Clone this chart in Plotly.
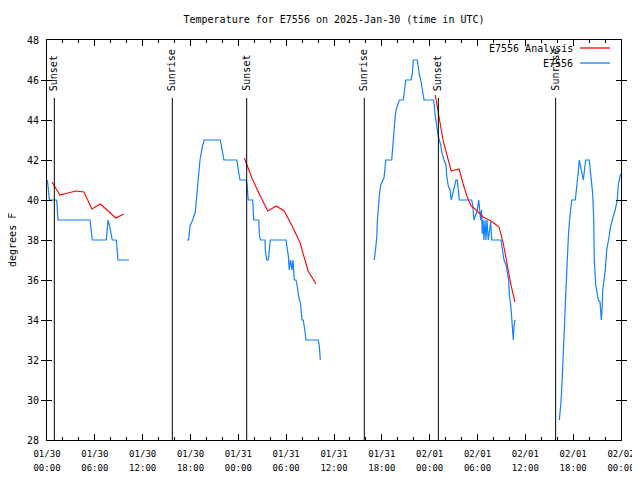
import pandas as pd
import numpy as np
import plotly.graph_objects as go

BASE = pd.Timestamp("2025-01-30 00:00")

# ---- E7556 observed (hours since 01/30 00:00 UTC, degrees F) ----
obs_h1 = [0.05, 0.2, 0.3, 1.22, 1.38, 5.39, 5.55, 5.68, 7.44, 7.6, 7.65, 7.85, 8.0, 8.19, 8.69, 8.91, 10.29]
obs_t1 = [41, 40.3, 40, 40, 39, 39, 38.5, 38, 38, 38.8, 39, 38.7, 38.4, 38, 38, 37, 37]

obs_h2 = [17.52, 17.77, 17.94, 18.28, 18.6, 18.78, 18.98, 19.19, 19.53, 19.73, 21.74, 21.95, 22.2, 23.8,
          23.92, 24.12, 24.21, 24.96, 25.09, 25.18, 25.25, 25.8, 25.93, 26.56, 26.63, 26.76, 27.35, 27.38,
          27.56, 27.76, 27.89, 28.01, 29.98, 30.11, 30.27, 30.39, 30.54, 30.73, 30.86, 31.02, 31.23, 31.36,
          31.49, 31.65, 31.77, 31.99, 32.15, 32.27, 32.4, 32.49, 34.03, 34.16, 34.28]
obs_t2 = [38, 38, 38.7, 39, 39.4, 40.3, 41.3, 42, 42.75, 43, 43, 42.6, 42, 42,
          41.7, 41.25, 41, 41, 40.8, 40.3, 40, 40, 39, 39, 38.3, 38, 38, 37.5,
          37, 37, 37.5, 38, 38, 37.7, 37.2, 36.5, 37, 36.5, 37, 36, 36, 35.75,
          35.25, 35, 34.9, 34, 34, 33.75, 33.3, 33, 33, 32.7, 32]

obs_h3 = [41.06, 41.23, 41.36, 41.43, 41.56, 41.68, 41.86, 42.11, 42.27, 42.4, 42.49, 43.24, 43.36, 43.53,
          43.66, 43.78, 44.19, 44.69, 44.82, 45.0, 45.66, 45.82, 45.95, 46.45, 46.7, 46.88, 47.13, 47.29,
          48.46, 48.58, 48.67, 48.8, 48.96, 49.08, 49.21, 49.39, 49.51, 49.64, 49.8, 50.05, 50.14, 50.34,
          50.55, 50.71, 50.89, 51.14, 51.3, 51.47, 51.64, 51.72, 53.27, 53.4, 53.56, 53.81, 53.98, 54.15,
          54.23, 54.4, 54.5, 54.6, 54.69, 54.81, 54.94, 55.06, 55.19, 55.35, 55.65, 55.78, 56.95, 57.03,
          57.16, 57.32, 57.57, 57.74, 57.91, 57.99, 58.17, 58.29, 58.42, 58.49, 58.58, 58.7]
obs_t3 = [37, 37.5, 38.1, 38.9, 39.7, 40.2, 40.75, 41, 41.1, 41.6, 42, 42, 42.7, 43.25,
          44.1, 44.5, 45, 45, 45.4, 46, 46, 46.3, 47, 47, 46.3, 46, 45.4, 45,
          45, 44.75, 44.3, 43.9, 43.4, 43.2, 43, 42.75, 42.4, 42.2, 42, 41.75, 41.2, 40.7,
          40.5, 40, 40.3, 40.75, 41, 41, 40.5, 40, 40, 39.7, 39, 39.25, 39.5, 40,
          39.7, 39, 39.5, 38.3, 39, 38, 39, 38, 39, 38, 38.9, 38, 38, 37.75,
          37.3, 37, 36.75, 36.4, 36, 35.25, 34.75, 34.1, 33.5, 33, 33.7, 34]

obs_h4 = [64.26, 64.35, 64.44, 64.56, 64.64, 64.76, 64.89, 65.01, 65.14, 65.27, 65.39, 65.52, 65.69, 65.82,
          66.27, 66.36, 66.48, 66.61, 66.77, 66.86, 66.99, 67.15, 67.28, 67.36, 67.45, 67.57, 68.02, 68.2,
          68.36, 68.45, 68.58, 68.65, 68.83, 68.99, 69.15, 69.37, 69.46, 69.53, 69.62, 69.71, 69.87, 70.03,
          70.21, 70.37, 70.54, 70.71, 70.87, 71.04, 71.21, 71.37, 71.54, 71.66, 71.79, 71.94]
obs_t4 = [29, 29.25, 29.75, 30.5, 31.5, 32.5, 33.5, 34.75, 36.25, 37.3, 38.1, 38.9, 39.7, 40,
          40, 40.3, 40.8, 41.3, 42, 41.8, 41.7, 41.25, 41, 41.3, 41.75, 42, 42, 41.3,
          40.8, 40.3, 39, 37, 35.75, 35.25, 35, 34.9, 34.3, 34, 34.5, 35.5, 36, 36.5,
          37.5, 38, 38.25, 38.7, 39, 39.2, 39.4, 39.7, 40, 40.75, 41, 41.3]

# ---- E7556 Analysis ----
ana_h1 = [0.63, 1.63, 2.63, 3.63, 4.63, 5.63, 6.7, 7.63, 8.63, 9.63]
ana_t1 = [40.9, 40.25, 40.35, 40.45, 40.4, 39.55, 39.8, 39.45, 39.1, 39.3]
ana_h2 = [24.75, 25.75, 26.75, 27.7, 28.75, 29.75, 30.75, 31.75, 32.75, 33.75]
ana_t2 = [42.1, 41.05, 40.2, 39.45, 39.7, 39.45, 38.7, 37.85, 36.45, 35.8]
ana_h3 = [48.7, 49.2, 49.7, 50.2, 50.7, 51.2, 51.7, 52.2, 52.7, 53.2, 53.7, 54.2, 54.7, 55.2,
          55.7, 56.2, 56.7, 57.2, 57.7, 58.2, 58.7]
ana_t3 = [45.25, 44.0, 42.95, 42.2, 41.45, 41.5, 41.55, 40.8, 40.15, 39.7, 39.55, 39.35, 39.15, 39.05,
          38.95, 38.8, 38.65, 37.9, 36.8, 35.75, 34.9]

# ---- sun events ----
sun_h = [0.92, 15.72, 25.05, 39.8, 49.09, 63.8]
sun_lbl = ["Sunset", "Sunrise", "Sunset", "Sunrise", "Sunset", "Sunrise"]

series_names = ["E7556 Analysis", "E7556"]
y_ticks = list(range(28, 49, 2))


def join(segs):
    xs, ys = [], []
    for h, t in segs:
        assert len(h) == len(t)
        xs += [BASE + pd.Timedelta(hours=v) for v in h] + [None]
        ys += list(t) + [None]
    return xs[:-1], ys[:-1]


ox, oy = join([(obs_h1, obs_t1), (obs_h2, obs_t2), (obs_h3, obs_t3), (obs_h4, obs_t4)])
ax_, ay_ = join([(ana_h1, ana_t1), (ana_h2, ana_t2), (ana_h3, ana_t3)])

RED = "#ff0000"
BLUE = "#1080ff"
FONT = "DejaVu Sans Mono"
XRANGE = [BASE, BASE + pd.Timedelta(hours=72)]

fig = go.Figure()
fig.add_trace(go.Scatter(x=ox, y=oy, mode="lines", name=series_names[1],
                         line=dict(color=BLUE, width=1.2), connectgaps=False))
# analysis drawn on the overlaid time axis (identical range) so its "%H:%M" row is shown
fig.add_trace(go.Scatter(x=ax_, y=ay_, mode="lines", name=series_names[0], xaxis="x2", yaxis="y",
                         line=dict(color=RED, width=1.1), connectgaps=False))

for h, lbl in zip(sun_h, sun_lbl):
    t = BASE + pd.Timedelta(hours=h)
    fig.add_shape(type="line", xref="x", yref="paper", x0=t, x1=t, y0=0, y1=0.855,
                  line=dict(color="black", width=1))
    fig.add_annotation(x=t, xref="x", y=0.8675, yref="paper", text=lbl, textangle=-90,
                       showarrow=False, xanchor="center", yanchor="bottom",
                       font=dict(family=FONT, size=10, color="black"))

# legend (gnuplot style: text then sample)
leg_y = [0.98, 0.9425]
leg_col = [RED, BLUE]
for name, yy, col in zip(series_names, leg_y, leg_col):
    fig.add_annotation(x=0.9199, xref="paper", y=yy, yref="paper", text=name, showarrow=False,
                       xanchor="right", yanchor="middle", font=dict(family=FONT, size=10, color="black"))
    fig.add_shape(type="line", xref="paper", yref="paper", x0=0.9286, x1=0.9808, y0=yy, y1=yy,
                  line=dict(color=col, width=1.3))

# y-axis title as annotation (fixed position like gnuplot)
fig.add_annotation(x=-0.061, xref="paper", y=0.5, yref="paper", text="degrees F", textangle=-90,
                   showarrow=False, xanchor="center", yanchor="middle",
                   font=dict(family=FONT, size=10, color="black"))

# page body has an 8px margin: figure is 632x472 so the plot lands at 47..621 x 40..440
W, H = 632, 472
fig.update_layout(
    width=W, height=H, autosize=False,
    margin=dict(l=39, r=19, t=32, b=40, autoexpand=False),
    plot_bgcolor="white", paper_bgcolor="white",
    showlegend=False,
    font=dict(family=FONT, size=10, color="black"),
    title=dict(text="Temperature for E7556 on 2025-Jan-30 (time in UTC)", x=0.5, xref="paper",
               y=1 - 11 / H, yref="container", yanchor="middle", xanchor="center",
               font=dict(family=FONT, size=10, color="black")),
)

TICKFONT = dict(family=FONT, size=9, color="black")
fig.update_layout(
    xaxis=dict(
        type="date", automargin=False, range=XRANGE,
        dtick=6 * 3600 * 1000, tick0=BASE, tickformat="%m/%d",
        ticks="inside", ticklen=6, tickcolor="black", tickwidth=1,
        minor=dict(dtick=2 * 3600 * 1000, tick0=BASE, ticks="inside", ticklen=3, tickcolor="black"),
        showline=True, linecolor="black", linewidth=1, mirror="allticks",
        showgrid=False, zeroline=False, tickfont=TICKFONT, ticklabelstandoff=5,
    ),
    xaxis2=dict(
        type="date", automargin=False, range=XRANGE, overlaying="x", anchor="y", side="bottom",
        dtick=6 * 3600 * 1000, tick0=BASE, tickformat="%H:%M",
        ticks="", showline=False, showgrid=False, zeroline=False,
        tickfont=TICKFONT, ticklabelstandoff=21,
    ),
    yaxis=dict(
        automargin=False, range=[28, 48], tickvals=y_ticks,
        ticks="inside", ticklen=5, tickcolor="black", tickwidth=1,
        showline=True, linecolor="black", linewidth=1, mirror="allticks",
        showgrid=False, zeroline=False,
        tickfont=dict(family=FONT, size=10, color="black"), ticklabelstandoff=5,
    ),
)

fig.write_html("out.html")
